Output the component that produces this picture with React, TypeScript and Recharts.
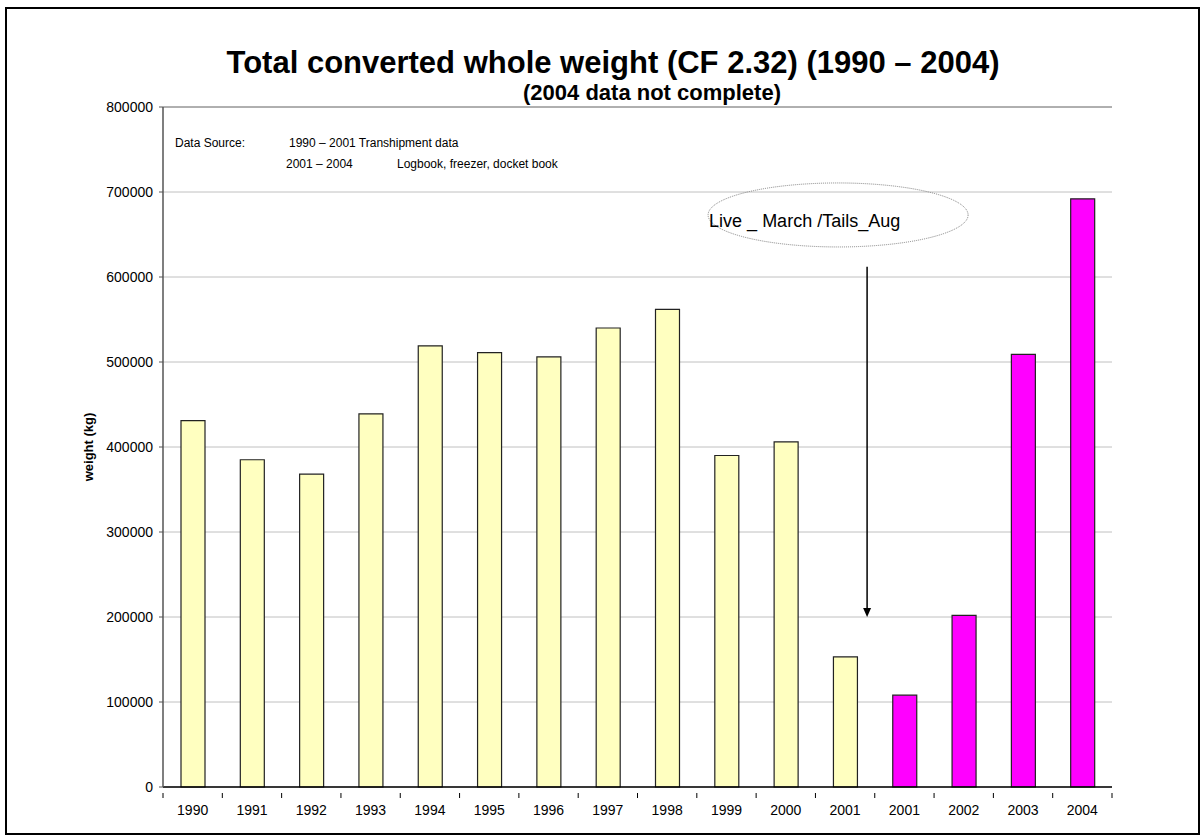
import React from 'react';
import {
  BarChart,
  Bar,
  Cell,
  XAxis,
  YAxis,
  CartesianGrid,
  ReferenceLine,
  ReferenceDot,
} from 'recharts';

// categories (2001 appears twice: transhipment and logbook)
const years = ['1990', '1991', '1992', '1993', '1994', '1995', '1996', '1997', '1998', '1999', '2000', '2001', '2001', '2002', '2003', '2004'];
const weights = [431000, 385000, 368000, 439000, 519000, 511000, 506000, 540000, 562000, 390000, 406000, 153000, 108000, 202000, 509000, 692000];
const sources = ['tranship', 'tranship', 'tranship', 'tranship', 'tranship', 'tranship', 'tranship', 'tranship', 'tranship', 'tranship', 'tranship', 'tranship', 'logbook', 'logbook', 'logbook', 'logbook'];
const yTicks = [0, 100000, 200000, 300000, 400000, 500000, 600000, 700000, 800000];

const sourceColor: Record<string, string> = {
  tranship: '#FFFFC0',
  logbook: '#FF00FF',
};

const data = years.map((year, i) => ({
  key: `${year}-${i}`,
  year,
  weight: weights[i],
  source: sources[i],
}));

const font = '"Liberation Sans", Arial, sans-serif';

// annotation positions in data space
const noteKey = data[11].key;
const noteY = 673000;
const arrowTop = 612000;
const arrowTip = 200000;

const Ellipse = (props: any) => {
  const { cx, cy } = props;
  const ex = cx - 7;
  return (
    <g>
      <ellipse cx={ex} cy={cy} rx={130} ry={32} fill="none" stroke="#808080" strokeWidth={1} strokeDasharray="1 1" />
      <text x={ex - 129} y={cy + 12} fontSize={18} fontFamily={font} fill="#000">
        Live _ March /Tails_Aug
      </text>
    </g>
  );
};

const Arrow = (props: any) => {
  const { x1, y1, y2 } = props;
  const x = x1 + 22;
  return (
    <g>
      <line x1={x} y1={y1} x2={x} y2={y2 - 8} stroke="#000" strokeWidth={1.5} />
      <polygon points={`${x - 4},${y2 - 9} ${x + 4},${y2 - 9} ${x},${y2}`} fill="#000" />
    </g>
  );
};

// category label plus tick marks on the category boundaries (Excel style)
const YearTick = (props: any) => {
  const { x, y, payload, index } = props;
  const half = payload && payload.offset ? payload.offset : 29.65;
  const axisY = y - 12;
  return (
    <g>
      <line x1={x - half} y1={axisY} x2={x - half} y2={axisY + 5} stroke="#000" />
      {index === years.length - 1 && (
        <line x1={x + half} y1={axisY} x2={x + half} y2={axisY + 5} stroke="#000" />
      )}
      <text x={x} y={y} dy="0.71em" textAnchor="middle" fontSize={14} fontFamily={font} fill="#000">
        {years[index]}
      </text>
    </g>
  );
};

export default function App() {
  return (
    <div style={{ position: 'absolute', left: 0, top: 0, width: 1203, height: 837, background: '#fff', fontFamily: font }}>
      <div style={{ position: 'absolute', left: 5, top: 7, width: 1191, height: 824, border: '2px solid #000' }} />
      <div style={{ position: 'absolute', left: 0, top: 0 }}>
        <BarChart
          width={1203}
          height={837}
          data={data}
          margin={{ top: 107, right: 91, left: 103, bottom: 20 }}
          barCategoryGap="60%"
        >
          <CartesianGrid vertical={false} stroke="#c0c0c0" />
          <XAxis
            dataKey="key"
            interval={0}
            tickLine={false}
            axisLine={{ stroke: '#000', strokeWidth: 1.5 }}
            tick={<YearTick />}
            tickMargin={12}
            height={30}
          />
          <YAxis
            domain={[0, 800000]}
            ticks={yTicks}
            interval={0}
            width={60}
            tickSize={4}
            tickMargin={6}
            axisLine={{ stroke: '#555', strokeWidth: 1.5 }}
            tickLine={{ stroke: '#555' }}
            tick={{ fill: '#000', fontSize: 14, fontFamily: font }}
          />
          <YAxis
            yAxisId="right"
            orientation="right"
            domain={[0, 800000]}
            ticks={yTicks}
            width={0}
            tick={false}
            tickLine={false}
            axisLine={{ stroke: '#808080' }}
          />
          <ReferenceLine y={800000} stroke="#808080" />
          <Bar dataKey="weight" stroke="#222" strokeWidth={1.2} barSize={24} isAnimationActive={false}>
            {data.map((d) => (
              <Cell key={d.key} fill={sourceColor[d.source]} />
            ))}
          </Bar>
          <ReferenceDot x={noteKey} y={noteY} r={1} shape={Ellipse} />
          <ReferenceLine
            segment={[
              { x: noteKey, y: arrowTop },
              { x: noteKey, y: arrowTip },
            ]}
            shape={Arrow}
          />
        </BarChart>
      </div>
      <svg width={1203} height={837} style={{ position: 'absolute', left: 0, top: 0, pointerEvents: 'none' }}>
        <text x={613} y={73} textAnchor="middle" fontSize={31} fontWeight="bold" fontFamily={font}>
          Total converted whole weight (CF 2.32) (1990 – 2004)
        </text>
        <text x={652} y={100} textAnchor="middle" fontSize={22} fontWeight="bold" fontFamily={font}>
          (2004 data not complete)
        </text>
        <text x={175} y={147} fontSize={12} fontFamily={font}>Data Source:</text>
        <text x={289} y={147} fontSize={12} fontFamily={font}>1990 – 2001 Transhipment data</text>
        <text x={286} y={168} fontSize={12} fontFamily={font}>2001 – 2004</text>
        <text x={397} y={168} fontSize={12} fontFamily={font}>Logbook, freezer, docket book</text>
        <text
          x={88}
          y={447}
          textAnchor="middle"
          dominantBaseline="central"
          transform="rotate(-90 88 447)"
          fontSize={13}
          fontWeight="bold"
          fontFamily={font}
        >
          weight (kg)
        </text>
      </svg>
    </div>
  );
}
